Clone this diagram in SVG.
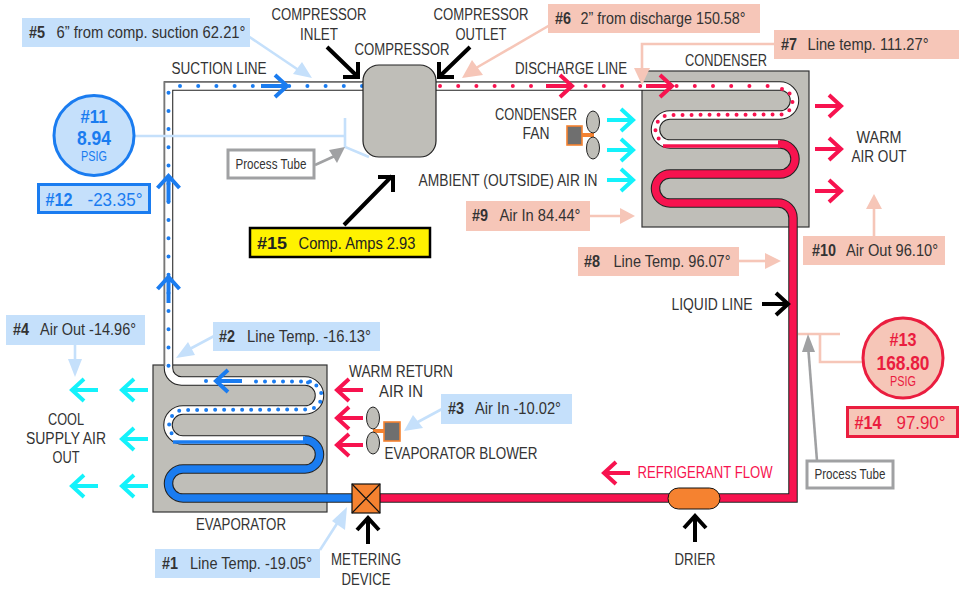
<svg xmlns="http://www.w3.org/2000/svg" width="963" height="589" viewBox="0 0 963 589">
<style>
text{font-family:"Liberation Sans",Arial,sans-serif;font-size:16px;fill:#333;text-anchor:middle}
.bl{fill:#c5e0fb}.pk{fill:#f6c6b8}
.num{font-weight:bold}
.box{fill:#bfbeb8;stroke:#333;stroke-width:1.2}
.out{fill:none;stroke:#222;stroke-width:9.5}
.wh{fill:none;stroke:#fff;stroke-width:7.4}
.fb{fill:none;stroke:#1a7cf0;stroke-width:7.4}
.fr{fill:none;stroke:#f7134f;stroke-width:7.4}
.sb{fill:none;stroke:#1a7cf0;stroke-width:3.6}
.sr{fill:none;stroke:#f7134f;stroke-width:3.6}
.edge{fill:none;stroke:#777;stroke-width:1.6}
.dotb{fill:none;stroke:#1a7cf0;stroke-width:4;stroke-linecap:round;stroke-dasharray:0 18.2}
.dotr{fill:none;stroke:#f7134f;stroke-width:4;stroke-linecap:round;stroke-dasharray:0 18.2}
.tight{stroke-dasharray:0 9}
.arr{fill:none;stroke-width:4}
.cy{stroke:#14f2fb}.rd{stroke:#f7134f}.bu{stroke:#1a7cf0}.bk{stroke:#000}
.lb{fill:none;stroke:#c5e0fb;stroke-width:2.6}.lp{fill:none;stroke:#f6c6b8;stroke-width:2.6}
.fan{fill:#bfbeb8;stroke:#222;stroke-width:1}
.motor{fill:#6f6f6f;stroke:#f58230;stroke-width:1.6}
.pt{fill:#fff;stroke:#a0a1a3;stroke-width:3}
.bf{fill:#1a7cf0}.rf{fill:#ea1d3f}
</style>
<defs>
<path id="a" d="M0 0H25M14-11L26 0L14 11" class="arr"/>
</defs>

<g id="evaporator"><rect class="box" x="153" y="365" width="174" height="147"/></g>
<g id="condenser"><rect class="box" x="642" y="71" width="167" height="156"/></g>

<g id="connectors">
<path class="out" d="M366 86H168.500V368A13 13 0 0 0 181.500 381H305A14.500 14.500 0 0 1 305 410H183A15 15 0 0 0 183 440H305A14.500 14.500 0 0 1 305 469H183A14.500 14.500 0 0 0 183 498H352"/>
<path class="wh" d="M366 86H168.500V368A13 13 0 0 0 181.500 381H305A14.500 14.500 0 0 1 305 410H183A15 15 0 0 0 183 440H305"/>
<path class="fb" d="M303 440H305A14.500 14.500 0 0 1 305 469H183A14.500 14.500 0 0 0 183 498H352"/>
<path class="sb" d="M173 442H305"/>
<path class="edge" d="M362 82H164.500V366"/>
<path class="out" d="M434 86H780A14.500 14.500 0 0 1 780 115H670A14.500 14.500 0 0 0 670 144H780A15 15 0 0 1 780 174H670A14.500 14.500 0 0 0 670 203H778A15 15 0 0 1 793 218V498H380"/>
<path class="wh" d="M434 86H780A14.500 14.500 0 0 1 780 115H670A14.500 14.500 0 0 0 670 144H780"/>
<path class="fr" d="M778 144H780A15 15 0 0 1 780 174H670A14.500 14.500 0 0 0 670 203H778A15 15 0 0 1 793 218V498H380"/>
<path class="sr" d="M663 146H780"/>
<path class="edge" d="M436 82H642"/>
<path class="dotb" d="M362 86H168.500V368"/>
<path class="dotb tight" style="stroke-dasharray:0 9" d="M310 381.500H247"/>
<path class="dotb" d="M206 381H188"/>
<path class="dotb" style="stroke-dasharray:0 9" d="M308 382.500A13.500 13.500 0 0 1 308 409.500L183 410A15 15 0 0 0 173 435"/>
<path class="dotr" d="M440 86H780"/>
<path class="dotr" style="stroke-dasharray:0 9" d="M782 89A13 13 0 0 1 782 114.500L670 115A14.500 14.500 0 0 0 659 139"/>
<use href="#a" class="bu" x="261" y="86"/>
<use href="#a" class="rd" x="546" y="86"/>
<use href="#a" class="rd" x="646" y="86"/>
<use href="#a" class="bu" transform="translate(168.500 202) rotate(-90)"/>
<use href="#a" class="bu" transform="translate(168.500 303) rotate(-90)"/>
<use href="#a" class="bu" transform="translate(242 381) rotate(180)"/>
<use href="#a" class="cy" x="607" y="120"/><use href="#a" class="cy" x="607" y="150"/><use href="#a" class="cy" x="607" y="180"/>
<use href="#a" class="rd" x="815" y="106"/><use href="#a" class="rd" x="815" y="149"/><use href="#a" class="rd" x="815" y="191"/>
<use href="#a" class="rd" transform="translate(363 390) rotate(180)"/>
<use href="#a" class="rd" transform="translate(363 418) rotate(180)"/>
<use href="#a" class="rd" transform="translate(363 445) rotate(180)"/>
<use href="#a" class="cy" transform="translate(148 390) rotate(180)"/>
<use href="#a" class="cy" transform="translate(148 439) rotate(180)"/>
<use href="#a" class="cy" transform="translate(148 486) rotate(180)"/>
<use href="#a" class="cy" transform="translate(98 390) rotate(180)"/>
<use href="#a" class="cy" transform="translate(98 486) rotate(180)"/>
<use href="#a" class="rd" transform="translate(630 473) rotate(180)"/>
<use href="#a" class="bk" transform="translate(762 304)"/>
<use href="#a" class="bk" transform="translate(368 544) rotate(-90)"/>
<use href="#a" class="bk" transform="translate(695 542) rotate(-90)"/>
<path class="arr bk" d="M327 47L357 76M343 77H358V62"/>
<path class="arr bk" d="M470 47L440 76M454 77H439V62"/>
<path class="arr bk" d="M344 225L392 176M378 177H393V192"/>
<path class="lb" d="M248 36L300 71"/><path d="M312 78L293 74L302 62z" class="bl"/>
<path class="lb" d="M216 335L186 351"/><path d="M176 358L188 342L195 355z" class="bl"/>
<path class="lb" d="M320 550L338 522"/><path d="M347 507L345 530L332 521z" class="bl"/>
<path class="lb" d="M75 344V362"/><path d="M75 377L68 359H82z" class="bl"/>
<path class="lb" d="M442 409L416 423"/><path d="M404 431L413 415L423 428z" class="bl"/>
<path class="lb" d="M135 136H345M345 118V147L369 157"/>
<path class="lp" d="M550 25L476 68"/><path d="M462 78L472 60L483 75z" class="pk"/>
<path class="lp" d="M774 44H642V72"/><path d="M642 85L634 68H650z" class="pk"/>
<path class="lp" d="M590 216H625"/><path d="M635 216L620 208V224z" class="pk"/>
<path class="lp" d="M739 261H770"/><path d="M781 261L765 253V269z" class="pk"/>
<path class="lp" d="M874 236V206"/><path d="M874 194L866 209H882z" class="pk"/>
<path class="lp" d="M798 334H840M820 334V362H862"/>
<path fill="none" stroke="#a0a1a3" stroke-width="2.600" d="M315 165L337 155"/><path d="M345 147L337 163L329 150z" fill="#a0a1a3"/>
<path fill="none" stroke="#a0a1a3" stroke-width="2.600" d="M817 461L808 345"/><path d="M808 334L815 352H802z" fill="#a0a1a3"/>
</g>

<g id="compressor"><rect x="363" y="65" width="73" height="92" rx="16" fill="#bfbeb8" stroke="#222" stroke-width="1.200"/><text x="402" y="55" textLength="95" lengthAdjust="spacingAndGlyphs">COMPRESSOR</text></g>
<g id="cond-fan">
<rect x="582" y="133" width="12" height="4" fill="#f58230"/>
<ellipse class="fan" cx="593" cy="122" rx="6.500" ry="11"/><ellipse class="fan" cx="593" cy="148" rx="6.500" ry="11"/>
<rect class="motor" x="567" y="126" width="15" height="19"/>
</g>
<g id="evap-fan">
<rect x="373" y="429" width="12" height="4" fill="#f58230"/>
<ellipse class="fan" cx="373" cy="418" rx="6.500" ry="11"/><ellipse class="fan" cx="373" cy="443" rx="6.500" ry="11"/>
<rect class="motor" x="384" y="422" width="16" height="19"/>
</g>
<g id="metering"><rect x="352" y="484" width="28" height="29" fill="#f58230" stroke="#111" stroke-width="1.200"/><path d="M352 484L380 513M380 484L352 513" stroke="#111" stroke-width="1.200"/></g>
<g id="drier"><rect x="668" y="488" width="52" height="21" rx="10.500" fill="#f58230" stroke="#111" stroke-width="1"/></g>

<g id="labels">
<text x="319" y="20" textLength="95" lengthAdjust="spacingAndGlyphs">COMPRESSOR</text><text x="319" y="40" textLength="38" lengthAdjust="spacingAndGlyphs">INLET</text>
<text x="481" y="20" textLength="95" lengthAdjust="spacingAndGlyphs">COMPRESSOR</text><text x="481" y="40" textLength="51" lengthAdjust="spacingAndGlyphs">OUTLET</text>
<text x="219" y="74" textLength="95" lengthAdjust="spacingAndGlyphs">SUCTION LINE</text>
<text x="571" y="74" textLength="112" lengthAdjust="spacingAndGlyphs">DISCHARGE LINE</text>
<text x="726" y="66" textLength="82" lengthAdjust="spacingAndGlyphs">CONDENSER</text>
<text x="536" y="120" textLength="82" lengthAdjust="spacingAndGlyphs">CONDENSER</text><text x="536" y="139" textLength="27" lengthAdjust="spacingAndGlyphs">FAN</text>
<text x="508" y="186" textLength="179" lengthAdjust="spacingAndGlyphs">AMBIENT (OUTSIDE) AIR IN</text>
<text x="879" y="143" textLength="45" lengthAdjust="spacingAndGlyphs">WARM</text><text x="879" y="162" textLength="55" lengthAdjust="spacingAndGlyphs">AIR OUT</text>
<text x="712" y="310" textLength="81" lengthAdjust="spacingAndGlyphs">LIQUID LINE</text>
<text x="401" y="377" textLength="104" lengthAdjust="spacingAndGlyphs">WARM RETURN</text><text x="401" y="397" textLength="44" lengthAdjust="spacingAndGlyphs">AIR IN</text>
<text x="461" y="459" textLength="153" lengthAdjust="spacingAndGlyphs">EVAPORATOR BLOWER</text>
<text x="241" y="530" textLength="90" lengthAdjust="spacingAndGlyphs">EVAPORATOR</text>
<text x="66" y="425" textLength="36" lengthAdjust="spacingAndGlyphs">COOL</text><text x="66" y="444" textLength="80" lengthAdjust="spacingAndGlyphs">SUPPLY AIR</text><text x="66" y="463" textLength="27" lengthAdjust="spacingAndGlyphs">OUT</text>
<text x="366" y="565" textLength="70" lengthAdjust="spacingAndGlyphs">METERING</text><text x="366" y="585" textLength="49" lengthAdjust="spacingAndGlyphs">DEVICE</text>
<text x="695" y="565" textLength="41" lengthAdjust="spacingAndGlyphs">DRIER</text>
<text x="705" y="478" textLength="135" lengthAdjust="spacingAndGlyphs" style="fill:#f7134f">REFRIGERANT FLOW</text>
</g>

<g id="n5"><rect class="bl" x="22" y="18" width="228" height="29"/><text x="37" y="38" class="num" textLength="16" lengthAdjust="spacingAndGlyphs">#5</text><text x="151" y="38" textLength="189" lengthAdjust="spacingAndGlyphs">6” from comp. suction 62.21°</text></g>
<g id="n6"><rect class="pk" x="548" y="4" width="212" height="29"/><text x="563" y="24" class="num" textLength="16" lengthAdjust="spacingAndGlyphs">#6</text><text x="663" y="24" textLength="165" lengthAdjust="spacingAndGlyphs">2” from discharge 150.58°</text></g>
<g id="n7"><rect class="pk" x="774" y="30" width="185" height="29"/><text x="789" y="50" class="num" textLength="16" lengthAdjust="spacingAndGlyphs">#7</text><text x="868" y="50" textLength="121" lengthAdjust="spacingAndGlyphs">Line temp. 111.27°</text></g>
<g id="n9"><rect class="pk" x="466" y="201" width="124" height="30"/><text x="480" y="221" class="num" textLength="16" lengthAdjust="spacingAndGlyphs">#9</text><text x="540" y="221" textLength="81" lengthAdjust="spacingAndGlyphs">Air In 84.44°</text></g>
<g id="n8"><rect class="pk" x="578" y="247" width="161" height="29"/><text x="592" y="267" class="num" textLength="16" lengthAdjust="spacingAndGlyphs">#8</text><text x="672" y="267" textLength="117" lengthAdjust="spacingAndGlyphs">Line Temp. 96.07°</text></g>
<g id="n10"><rect class="pk" x="803" y="236" width="142" height="29"/><text x="824" y="256" class="num" textLength="24" lengthAdjust="spacingAndGlyphs">#10</text><text x="892" y="256" textLength="92" lengthAdjust="spacingAndGlyphs">Air Out 96.10°</text></g>
<g id="n2"><rect class="bl" x="213" y="322" width="167" height="29"/><text x="227" y="342" class="num" textLength="16" lengthAdjust="spacingAndGlyphs">#2</text><text x="309" y="342" textLength="124" lengthAdjust="spacingAndGlyphs">Line Temp. -16.13°</text></g>
<g id="n3"><rect class="bl" x="441" y="394" width="131" height="30"/><text x="456" y="414" class="num" textLength="16" lengthAdjust="spacingAndGlyphs">#3</text><text x="518" y="414" textLength="86" lengthAdjust="spacingAndGlyphs">Air In -10.02°</text></g>
<g id="n4"><rect class="bl" x="6" y="315" width="139" height="30"/><text x="21" y="335" class="num" textLength="16" lengthAdjust="spacingAndGlyphs">#4</text><text x="88" y="335" textLength="96" lengthAdjust="spacingAndGlyphs">Air Out -14.96°</text></g>
<g id="n1"><rect class="bl" x="155" y="549" width="165" height="29"/><text x="170" y="569" class="num" textLength="16" lengthAdjust="spacingAndGlyphs">#1</text><text x="251" y="569" textLength="122" lengthAdjust="spacingAndGlyphs">Line Temp. -19.05°</text></g>
<g id="n15"><rect x="250" y="228" width="180" height="29" fill="#fff200" stroke="#000" stroke-width="2.500"/><text x="272" y="249" class="num" style="font-size:17px;fill:#222" textLength="30" lengthAdjust="spacingAndGlyphs">#15</text><text x="357" y="249" style="font-size:17px;fill:#222" textLength="117" lengthAdjust="spacingAndGlyphs">Comp. Amps 2.93</text></g>
<g id="n11"><circle cx="94" cy="135.500" r="40" fill="#c5e0fb" stroke="#1a7cf0" stroke-width="3"/><text x="94" y="123" class="num" style="font-size:19px;fill:#1a7cf0" textLength="27" lengthAdjust="spacingAndGlyphs">#11</text><text x="94" y="145" class="num" style="font-size:20px;fill:#1a7cf0" textLength="34" lengthAdjust="spacingAndGlyphs">8.94</text><text x="94" y="161" style="font-size:14px;fill:#1a7cf0" textLength="26" lengthAdjust="spacingAndGlyphs">PSIG</text></g>
<g id="n12"><rect x="38.500" y="184.500" width="111" height="28" fill="#c5e0fb" stroke="#1a7cf0" stroke-width="3"/><text x="59" y="206" class="num" style="font-size:19px;fill:#1a7cf0" textLength="27" lengthAdjust="spacingAndGlyphs">#12</text><text x="115" y="206" style="font-size:19px;fill:#1a7cf0" textLength="55" lengthAdjust="spacingAndGlyphs">-23.35°</text></g>
<g id="n13"><circle cx="903" cy="358" r="40" fill="#f6c6b8" stroke="#ea1d3f" stroke-width="3"/><text x="903" y="346" class="num" style="font-size:19px;fill:#ea1d3f" textLength="27" lengthAdjust="spacingAndGlyphs">#13</text><text x="903" y="370" class="num" style="font-size:20px;fill:#ea1d3f" textLength="53" lengthAdjust="spacingAndGlyphs">168.80</text><text x="903" y="386" style="font-size:14px;fill:#ea1d3f" textLength="26" lengthAdjust="spacingAndGlyphs">PSIG</text></g>
<g id="n14"><rect x="847.500" y="407.500" width="110" height="29" fill="#f6c6b8" stroke="#ea1d3f" stroke-width="3"/><text x="868" y="429" class="num" style="font-size:19px;fill:#ea1d3f" textLength="27" lengthAdjust="spacingAndGlyphs">#14</text><text x="921" y="429" style="font-size:19px;fill:#ea1d3f" textLength="49" lengthAdjust="spacingAndGlyphs">97.90°</text></g>
<g id="pt1"><rect class="pt" x="228" y="150" width="86" height="28"/><text x="271" y="169" style="font-size:14px" textLength="71" lengthAdjust="spacingAndGlyphs">Process Tube</text></g>
<g id="pt2"><rect class="pt" x="807" y="461" width="86" height="27"/><text x="850" y="479" style="font-size:14px" textLength="71" lengthAdjust="spacingAndGlyphs">Process Tube</text></g>
</svg>
